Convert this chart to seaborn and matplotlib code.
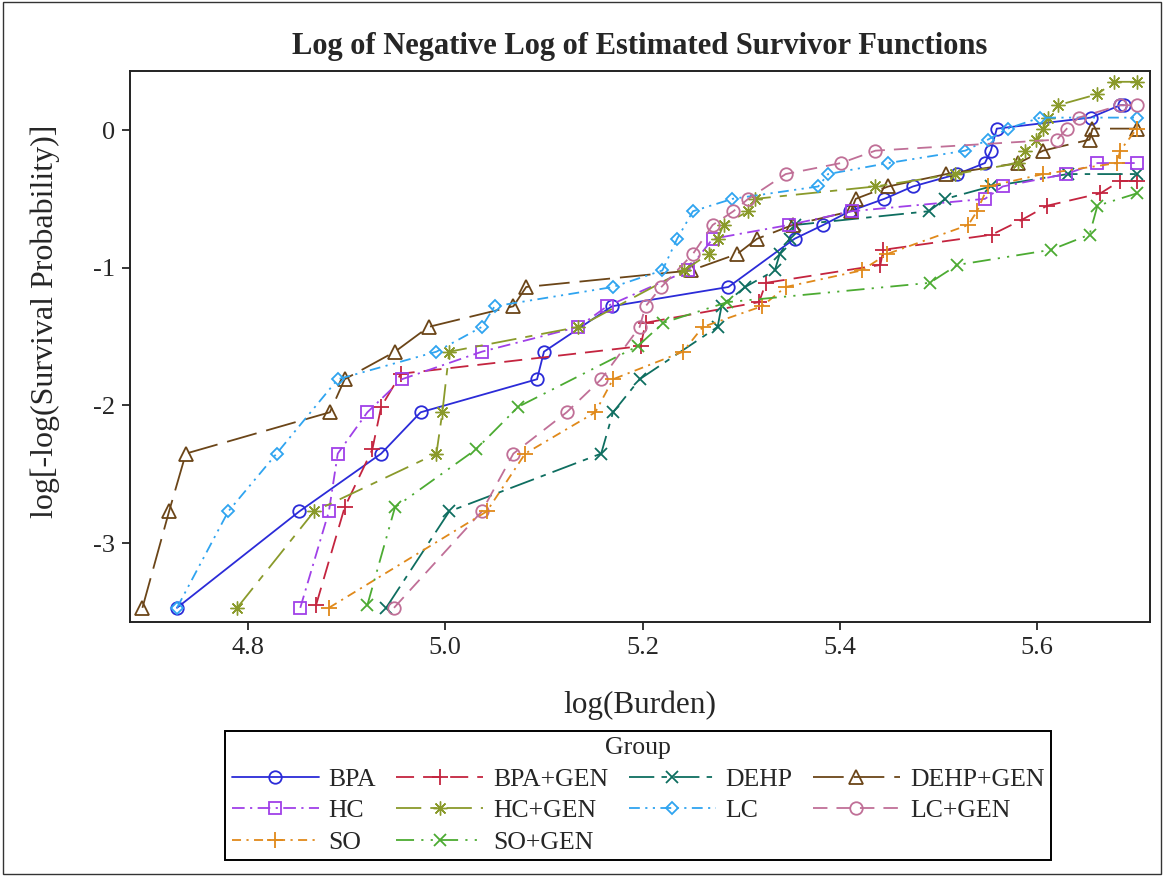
import matplotlib
matplotlib.use("Agg")
import matplotlib.pyplot as plt
from matplotlib.patches import Rectangle
import pandas as pd
import seaborn as sns

# Log-burden (x) and log(-log(S)) (y) for each treatment group
bpa_x = [4.728, 4.852, 4.935, 4.975, 5.093, 5.100, 5.169, 5.287, 5.354, 5.383, 5.410, 5.445, 5.474, 5.519, 5.547, 5.553, 5.559, 5.654, 5.684, 5.688]
bpa_y = [-3.47, -2.77, -2.35, -2.05, -1.81, -1.61, -1.28, -1.14, -0.79, -0.69, -0.59, -0.50, -0.41, -0.32, -0.24, -0.15, 0.01, 0.09, 0.18, 0.18]

bpagen_x = [4.869, 4.898, 4.926, 4.935, 4.955, 5.198, 5.203, 5.318, 5.325, 5.441, 5.444, 5.554, 5.585, 5.610, 5.664, 5.684, 5.701]
bpagen_y = [-3.45, -2.74, -2.32, -2.01, -1.77, -1.57, -1.40, -1.25, -1.11, -0.98, -0.87, -0.76, -0.65, -0.55, -0.46, -0.37, -0.37]

dehp_x = [4.940, 5.004, 5.158, 5.170, 5.197, 5.276, 5.280, 5.304, 5.334, 5.339, 5.349, 5.354, 5.490, 5.507, 5.553, 5.631, 5.701]
dehp_y = [-3.47, -2.77, -2.35, -2.05, -1.81, -1.43, -1.28, -1.14, -1.02, -0.90, -0.79, -0.69, -0.59, -0.50, -0.41, -0.32, -0.32]

dehpgen_x = [4.693, 4.720, 4.737, 4.883, 4.898, 4.949, 4.983, 5.069, 5.082, 5.249, 5.296, 5.316, 5.352, 5.411, 5.416, 5.449, 5.508, 5.581, 5.606, 5.653, 5.656, 5.701]
dehpgen_y = [-3.47, -2.77, -2.35, -2.05, -1.81, -1.61, -1.43, -1.28, -1.14, -1.02, -0.90, -0.79, -0.69, -0.59, -0.50, -0.41, -0.32, -0.24, -0.15, -0.07, 0.01, 0.01]

hc_x = [4.853, 4.882, 4.891, 4.921, 4.956, 5.037, 5.135, 5.164, 5.246, 5.271, 5.348, 5.412, 5.547, 5.565, 5.629, 5.661, 5.701]
hc_y = [-3.47, -2.77, -2.35, -2.05, -1.81, -1.61, -1.43, -1.28, -1.02, -0.79, -0.69, -0.59, -0.50, -0.41, -0.32, -0.24, -0.24]

hcgen_x = [4.789, 4.867, 4.991, 4.997, 5.004, 5.135, 5.242, 5.267, 5.276, 5.282, 5.307, 5.314, 5.436, 5.517, 5.581, 5.588, 5.599, 5.606, 5.611, 5.621, 5.661, 5.678, 5.701]
hcgen_y = [-3.47, -2.77, -2.35, -2.05, -1.61, -1.43, -1.02, -0.90, -0.79, -0.69, -0.59, -0.50, -0.41, -0.32, -0.24, -0.15, -0.07, 0.01, 0.09, 0.18, 0.26, 0.35, 0.35]

lc_x = [4.728, 4.780, 4.829, 4.891, 4.991, 5.037, 5.050, 5.170, 5.220, 5.235, 5.251, 5.291, 5.378, 5.388, 5.449, 5.527, 5.550, 5.570, 5.603, 5.701]
lc_y = [-3.47, -2.77, -2.35, -1.81, -1.61, -1.43, -1.28, -1.14, -1.02, -0.79, -0.59, -0.50, -0.41, -0.32, -0.24, -0.15, -0.07, 0.01, 0.09, 0.09]

lcgen_x = [4.948, 5.037, 5.069, 5.123, 5.158, 5.197, 5.203, 5.219, 5.251, 5.271, 5.292, 5.307, 5.345, 5.401, 5.436, 5.620, 5.630, 5.642, 5.684, 5.701]
lcgen_y = [-3.47, -2.77, -2.35, -2.05, -1.81, -1.43, -1.28, -1.14, -0.90, -0.69, -0.59, -0.50, -0.32, -0.24, -0.15, -0.07, 0.01, 0.09, 0.18, 0.18]

so_x = [4.882, 5.042, 5.081, 5.152, 5.170, 5.241, 5.261, 5.321, 5.345, 5.422, 5.448, 5.530, 5.539, 5.550, 5.606, 5.681, 5.684, 5.701]
so_y = [-3.47, -2.77, -2.35, -2.05, -1.81, -1.61, -1.43, -1.28, -1.14, -1.02, -0.90, -0.69, -0.59, -0.41, -0.32, -0.24, -0.15, 0.01]

sogen_x = [4.921, 4.949, 5.031, 5.074, 5.195, 5.221, 5.286, 5.491, 5.519, 5.614, 5.653, 5.661, 5.701]
sogen_y = [-3.45, -2.74, -2.32, -2.01, -1.57, -1.40, -1.25, -1.11, -0.98, -0.87, -0.76, -0.55, -0.46]

groups = ["BPA", "BPA+GEN", "DEHP", "DEHP+GEN", "HC", "HC+GEN", "LC", "LC+GEN", "SO", "SO+GEN"]
series = {
    "BPA": (bpa_x, bpa_y),
    "BPA+GEN": (bpagen_x, bpagen_y),
    "DEHP": (dehp_x, dehp_y),
    "DEHP+GEN": (dehpgen_x, dehpgen_y),
    "HC": (hc_x, hc_y),
    "HC+GEN": (hcgen_x, hcgen_y),
    "LC": (lc_x, lc_y),
    "LC+GEN": (lcgen_x, lcgen_y),
    "SO": (so_x, so_y),
    "SO+GEN": (sogen_x, sogen_y),
}
x_ticks = [4.8, 5.0, 5.2, 5.4, 5.6]
y_ticks = [-3, -2, -1, 0]

# Per-group appearance: colour, marker, marker size, edge width, dash pattern
styles = {
    "BPA":      ("#2B2BD8", "o", 9.0, 1.3, None),
    "BPA+GEN":  ("#C4243F", "+", 11.0, 1.3, (10, 5)),
    "DEHP":     ("#0E6E60", "x", 8.5, 1.3, (14, 4, 3, 4)),
    "DEHP+GEN": ("#6B4518", "^", 9.5, 1.3, (17, 5.5)),
    "HC":       ("#A040E8", "s", 8.5, 1.3, (7, 3, 1.2, 3)),
    "HC+GEN":   ("#8A9A2B", (8, 2, 0), 10.0, 1.0, (14, 5, 4, 5)),
    "LC":       ("#2FA4F0", "D", 6.5, 1.3, (6, 3, 1.2, 3, 1.2, 3)),
    "LC+GEN":   ("#C06F97", "o", 9.0, 1.3, (8, 5)),
    "SO":       ("#E0891A", "+", 11.0, 1.3, (5, 3, 1.2, 3)),
    "SO+GEN":   ("#4CAB32", "x", 8.5, 1.3, (10, 4, 1.2, 4, 1.2, 4)),
}

sns.set_style("ticks")
plt.rcParams["font.family"] = ["Liberation Serif", "DejaVu Serif"]
plt.rcParams["axes.unicode_minus"] = False

fig = plt.figure(figsize=(11.64, 8.76), dpi=100)
ax = fig.add_axes([130 / 1164, 1 - 622 / 876, 1020 / 1164, 551 / 876])

handles = {}
for g in groups:
    xs, ys = series[g]
    df = pd.DataFrame({"x": xs, "y": ys})
    color, marker, ms, mew, dash = styles[g]
    ls = "-" if dash is None else (0, dash)
    sns.lineplot(data=df, x="x", y="y", ax=ax, color=color, linestyle=ls,
                 linewidth=1.3, marker=marker, markersize=ms,
                 markerfacecolor="none", markeredgecolor=color,
                 markeredgewidth=mew, sort=False, estimator=None, legend=False)
    handles[g] = ax.lines[-1]

ax.set_xlim(4.6804, 5.7143)
ax.set_ylim(-3.573, 0.4285)
ax.set_xticks(x_ticks)
ax.set_xticklabels([f"{v:.1f}" for v in x_ticks])
ax.set_yticks(y_ticks)
ax.set_yticklabels([str(v) for v in y_ticks])
ax.tick_params(axis="both", direction="out", length=6, width=1.1,
               labelsize=19, color="black", pad=5)

for sp in ax.spines.values():
    sp.set_visible(True)
    sp.set_color("#222222")
    sp.set_linewidth(1.4)

ax.set_title("Log of Negative Log of Estimated Survivor Functions",
             fontsize=22, fontweight="bold", pad=12)
ax.set_xlabel("log(Burden)", fontsize=22.5)
ax.xaxis.label.set_va("center")
ax.xaxis.set_label_coords(0.5, (622 - 705) / 551)
ax.set_ylabel("log[-log(Survival Probability)]", fontsize=23)
ax.yaxis.label.set_va("center")
ax.yaxis.set_label_coords((45 - 130) / 1020, (622 - 321) / 551)

legend_order = ["BPA", "HC", "SO", "BPA+GEN", "HC+GEN", "SO+GEN",
                "DEHP", "LC", "DEHP+GEN", "LC+GEN"]
leg = ax.legend([handles[g] for g in legend_order], legend_order,
                title="Group", ncol=4, loc="upper center",
                bbox_to_anchor=(638 / 1164, 1 - 731 / 876),
                bbox_transform=fig.transFigure,
                fontsize=18.5, title_fontsize=18.5, frameon=True, fancybox=False,
                edgecolor="black", framealpha=1, handlelength=3.39,
                handletextpad=0.39, columnspacing=0.78, labelspacing=0.33,
                borderpad=0.25, borderaxespad=0)
leg.get_frame().set_linewidth(1.4)

fig.add_artist(Rectangle((0.003, 0.002), 0.994, 0.996, transform=fig.transFigure,
                         fill=False, edgecolor="#333333", linewidth=1.0))

fig.savefig("out.png", dpi=100)
